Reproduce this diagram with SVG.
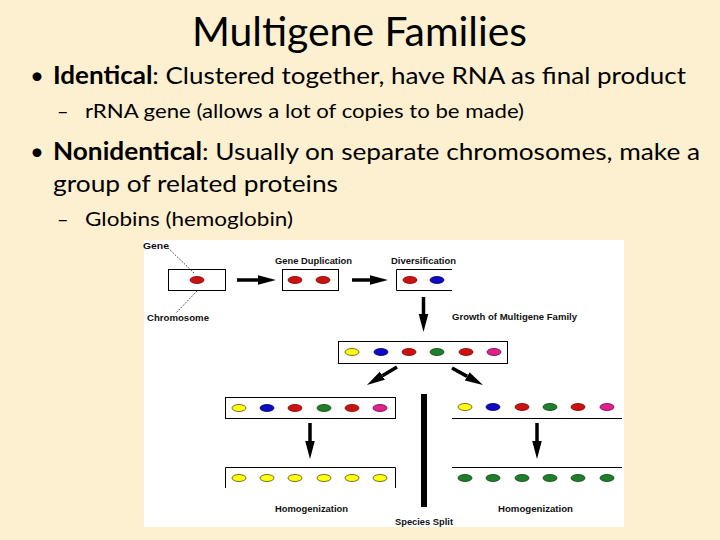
<svg xmlns="http://www.w3.org/2000/svg" width="720" height="540" viewBox="0 0 720 540">
<style>
.slide{font-family:Lato,"Open Sans","Liberation Sans",sans-serif;fill:#000}
.lbl{font-family:"Liberation Sans",Arial,sans-serif;font-weight:bold;font-size:8.5px;fill:#111}
.box{fill:none;stroke:#000;stroke-width:1}
.dot{fill:none;stroke:#000;stroke-width:1;stroke-dasharray:1 1.5}
.sh{stroke:#000;stroke-width:3.5;fill:none}
.r{fill:#cc1111;stroke:#7a0000;stroke-width:0.8}
.b{fill:#0b0bc8;stroke:#00004a;stroke-width:0.8}
.g{fill:#1f7f2a;stroke:#0b3d10;stroke-width:0.8}
.y{fill:#ffff10;stroke:#5a4a00;stroke-width:0.8}
.p{fill:#e2208c;stroke:#6a0040;stroke-width:0.8}
</style>
<defs>
<marker id="ah" markerUnits="userSpaceOnUse" markerWidth="20" markerHeight="12" viewBox="0 -6 20 12" refX="0" refY="0" orient="auto">
<path d="M0,-4.8 L18,0 L0,4.8 z" fill="#000"/>
</marker>
</defs>
<rect x="0" y="0" width="720" height="540" fill="#fdf0d0"/>
<g id="title"><text class="slide" x="359.5" y="46" font-size="40" text-anchor="middle" textLength="335" lengthAdjust="spacingAndGlyphs">Multigene Families</text></g>
<g id="bullets">
<text class="slide" x="30" y="84" font-size="24">•</text>
<text class="slide" x="53" y="84" font-size="24" textLength="633" lengthAdjust="spacingAndGlyphs"><tspan font-weight="bold">Identical</tspan>: Clustered together, have RNA as final product</text>
<text class="slide" x="57" y="118" font-size="20">–</text>
<text class="slide" x="85" y="118" font-size="20" textLength="439" lengthAdjust="spacingAndGlyphs">rRNA gene (allows a lot of copies to be made)</text>
<text class="slide" x="30" y="160" font-size="24">•</text>
<text class="slide" x="53" y="160" font-size="24" textLength="647" lengthAdjust="spacingAndGlyphs"><tspan font-weight="bold">Nonidentical</tspan>: Usually on separate chromosomes, make a</text>
<text class="slide" x="53" y="192" font-size="24" textLength="285" lengthAdjust="spacingAndGlyphs">group of related proteins</text>
<text class="slide" x="57" y="226" font-size="20">–</text>
<text class="slide" x="85" y="226" font-size="20" textLength="208" lengthAdjust="spacingAndGlyphs">Globins (hemoglobin)</text>
</g>
<rect x="144" y="240" width="480" height="287" fill="#ffffff"/>
<g id="labels">
<text class="lbl" x="143" y="249" textLength="26" lengthAdjust="spacingAndGlyphs">Gene</text>
<text class="lbl" x="147" y="321" textLength="62" lengthAdjust="spacingAndGlyphs">Chromosome</text>
<text class="lbl" x="275" y="264" textLength="77" lengthAdjust="spacingAndGlyphs">Gene Duplication</text>
<text class="lbl" x="391" y="264" textLength="65" lengthAdjust="spacingAndGlyphs">Diversification</text>
<text class="lbl" x="452" y="320" textLength="125" lengthAdjust="spacingAndGlyphs">Growth of Multigene Family</text>
<text class="lbl" x="275" y="512" textLength="73" lengthAdjust="spacingAndGlyphs">Homogenization</text>
<text class="lbl" x="498" y="512" textLength="75" lengthAdjust="spacingAndGlyphs">Homogenization</text>
<text class="lbl" x="395" y="525" textLength="58" lengthAdjust="spacingAndGlyphs">Species Split</text>
</g>
<g id="gene">
<rect class="box" x="168.5" y="269.5" width="57" height="21"/>
<ellipse class="r" cx="197" cy="280" rx="7" ry="3.5"/>
</g>
<g id="duplication">
<rect class="box" x="282.5" y="269.5" width="56" height="21"/>
<ellipse class="r" cx="295" cy="280" rx="7" ry="3.5"/>
<ellipse class="r" cx="323" cy="280" rx="7" ry="3.5"/>
</g>
<g id="diversification">
<path class="box" d="M452,269.5 H396.5 V290.5 H452"/>
<ellipse class="r" cx="410" cy="280" rx="7" ry="3.5"/>
<ellipse class="b" cx="437" cy="280" rx="7" ry="3.5"/>
</g>
<g id="family">
<rect class="box" x="338.5" y="341.5" width="169" height="22"/>
<ellipse class="y" cx="352" cy="352" rx="7" ry="3.5"/>
<ellipse class="b" cx="381" cy="352" rx="7" ry="3.5"/>
<ellipse class="r" cx="409" cy="352" rx="7" ry="3.5"/>
<ellipse class="g" cx="437" cy="352" rx="7" ry="3.5"/>
<ellipse class="r" cx="466" cy="352" rx="7" ry="3.5"/>
<ellipse class="p" cx="494" cy="352" rx="7" ry="3.5"/>
</g>
<g id="left-before">
<rect class="box" x="225.5" y="397.5" width="170" height="21"/>
<ellipse class="y" cx="239" cy="408" rx="7" ry="3.5"/>
<ellipse class="b" cx="267" cy="408" rx="7" ry="3.5"/>
<ellipse class="r" cx="295" cy="408" rx="7" ry="3.5"/>
<ellipse class="g" cx="324" cy="408" rx="7" ry="3.5"/>
<ellipse class="r" cx="352" cy="408" rx="7" ry="3.5"/>
<ellipse class="p" cx="380" cy="408" rx="7" ry="3.5"/>
</g>
<g id="left-after">
<path class="box" d="M225.5,488 V467.5 H395.5 V488"/>
<ellipse class="y" cx="239" cy="478" rx="7" ry="3.5"/>
<ellipse class="y" cx="267" cy="478" rx="7" ry="3.5"/>
<ellipse class="y" cx="295" cy="478" rx="7" ry="3.5"/>
<ellipse class="y" cx="324" cy="478" rx="7" ry="3.5"/>
<ellipse class="y" cx="352" cy="478" rx="7" ry="3.5"/>
<ellipse class="y" cx="380" cy="478" rx="7" ry="3.5"/>
</g>
<g id="right-before">
<path class="box" d="M452,418.5 H622"/>
<ellipse class="y" cx="465" cy="407" rx="7" ry="3.5"/>
<ellipse class="b" cx="493" cy="407" rx="7" ry="3.5"/>
<ellipse class="r" cx="522" cy="407" rx="7" ry="3.5"/>
<ellipse class="g" cx="550" cy="407" rx="7" ry="3.5"/>
<ellipse class="r" cx="578" cy="407" rx="7" ry="3.5"/>
<ellipse class="p" cx="607" cy="407" rx="7" ry="3.5"/>
</g>
<g id="right-after">
<path class="box" d="M452,467.5 H622"/>
<ellipse class="g" cx="465" cy="478" rx="7" ry="3.5"/>
<ellipse class="g" cx="493" cy="478" rx="7" ry="3.5"/>
<ellipse class="g" cx="522" cy="478" rx="7" ry="3.5"/>
<ellipse class="g" cx="550" cy="478" rx="7" ry="3.5"/>
<ellipse class="g" cx="578" cy="478" rx="7" ry="3.5"/>
<ellipse class="g" cx="607" cy="478" rx="7" ry="3.5"/>
</g>
<g id="split"><rect x="421" y="394" width="6" height="113" fill="#000"/></g>
<g id="connectors">
<path class="dot" d="M168,248 L195,274"/>
<path class="dot" d="M197,291 L176,313"/>
<line class="sh" x1="237" y1="280" x2="258" y2="280" marker-end="url(#ah)"/>
<line class="sh" x1="352" y1="280" x2="370" y2="280" marker-end="url(#ah)"/>
<line class="sh" x1="423.5" y1="297" x2="423.5" y2="314" stroke-width="3" marker-end="url(#ah)"/>
<line class="sh" x1="397" y1="367" x2="382.4" y2="375.7" stroke-width="5" marker-end="url(#ah)"/>
<line class="sh" x1="452" y1="368" x2="467.2" y2="376.4" stroke-width="5" marker-end="url(#ah)"/>
<line class="sh" x1="310" y1="423" x2="310" y2="441" stroke-width="3" marker-end="url(#ah)"/>
<line class="sh" x1="537" y1="423" x2="537" y2="441" stroke-width="3" marker-end="url(#ah)"/>
</g>
</svg>
